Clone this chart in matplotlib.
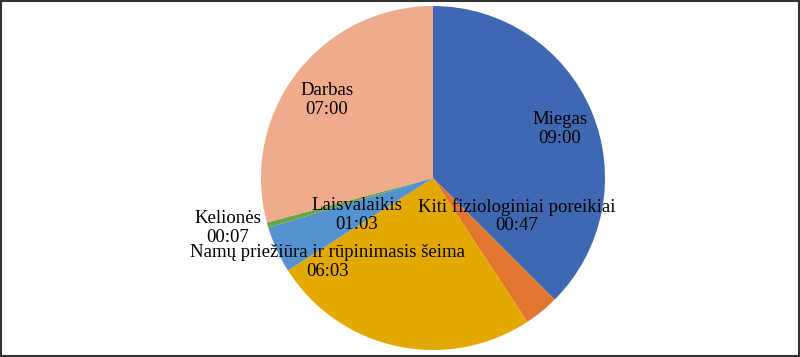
import matplotlib.pyplot as plt
from matplotlib.patches import Rectangle

# time use per day, minutes
categories = ["Miegas", "Kiti fiziologiniai poreikiai", "Namų priežiūra ir rūpinimasis šeima",
              "Laisvalaikis", "Kelionės", "Darbas"]
minutes = [540, 47, 363, 63, 7, 420]
time_labels = ["09:00", "00:47", "06:03", "01:03", "00:07", "07:00"]
colors = ["#4068B2", "#E2762F", "#E3A900", "#5493CF", "#6BA544", "#F0AA8C"]

# label centres in pixel coords (x, y from top)
label_pos = [(560, 129), (517, 216), (328, 262), (357, 215), (228, 228), (327, 100)]

plt.rcParams['font.family'] = ['Liberation Serif', 'DejaVu Serif']

fig = plt.figure(figsize=(8, 3.57), dpi=100)
ax = fig.add_axes([0, 0, 1, 1])

# y axis is flipped below, so start at -90 and go "counterclockwise" to look clockwise from top
ax.pie(minutes, colors=colors, startangle=-90, counterclock=True,
       center=(433, 178), radius=172, frame=True,
       wedgeprops=dict(linewidth=0))
ax.set_xlim(0, 800)
ax.set_ylim(357, 0)
ax.set_aspect('equal')
ax.axis('off')

for name, t, (x, y) in zip(categories, time_labels, label_pos):
    ax.text(x, y, f"{name}\n{t}", ha='center', va='center', fontsize=13.5,
            color='black', linespacing=1.1)

fig.patches.append(Rectangle((0.0015, 0.003), 0.997, 0.994, transform=fig.transFigure,
                             fill=False, edgecolor='#333333', linewidth=1.5))

fig.savefig("out.png", dpi=100)
